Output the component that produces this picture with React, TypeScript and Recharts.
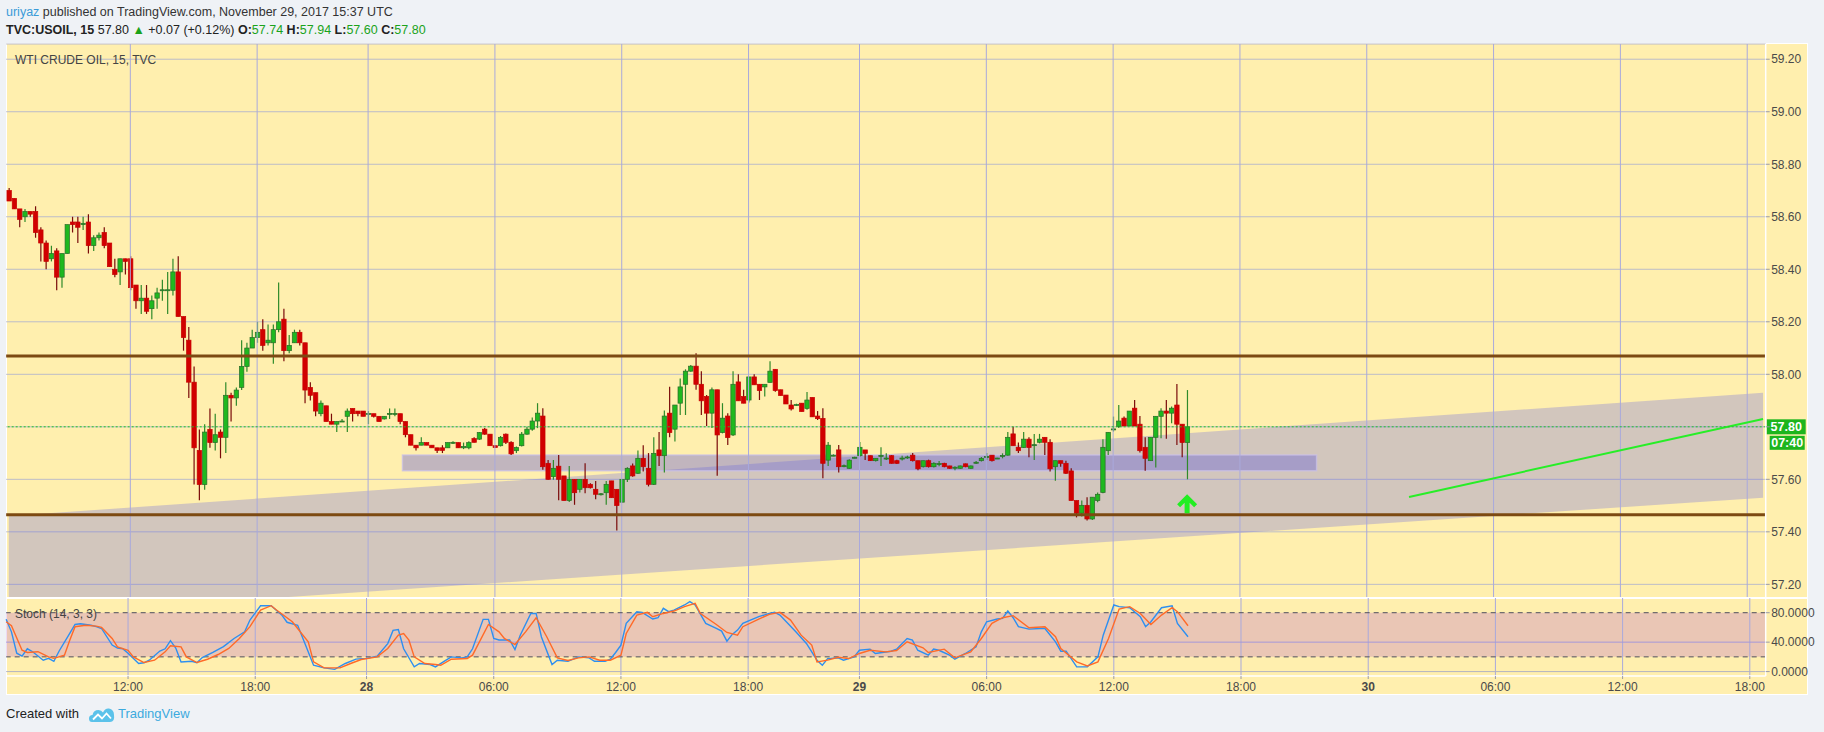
import type { JSX } from 'react';
import {
  Area,
  Bar,
  CartesianGrid,
  ComposedChart,
  Line,
  ReferenceArea,
  ReferenceDot,
  ReferenceLine,
  XAxis,
  YAxis,
} from 'recharts';

// 15-minute candles [open, high, low, close], one list per day
const nov27 = [
  [58.7, 58.71, 58.66, 58.66], [58.67, 58.67, 58.63, 58.63], [58.63, 58.63, 58.56, 58.59], [58.6, 58.63, 58.58, 58.62],
  [58.62, 58.62, 58.6, 58.61], [58.62, 58.64, 58.52, 58.54], [58.55, 58.56, 58.43, 58.5], [58.5, 58.51, 58.4, 58.43],
  [58.44, 58.49, 58.43, 58.46], [58.47, 58.48, 58.32, 58.37], [58.37, 58.46, 58.33, 58.46], [58.46, 58.57, 58.46, 58.57],
  [58.58, 58.6, 58.54, 58.57], [58.58, 58.6, 58.5, 58.56], [58.57, 58.6, 58.55, 58.575], [58.58, 58.61, 58.46, 58.49],
  [58.49, 58.53, 58.47, 58.52], [58.52, 58.54, 58.51, 58.53], [58.54, 58.56, 58.48, 58.49], [58.5, 58.5, 58.41, 58.41],
  [58.4, 58.44, 58.37, 58.38], [58.39, 58.44, 58.34, 58.44], [58.44, 58.44, 58.38, 58.43], [58.44, 58.45, 58.32, 58.33],
  [58.34, 58.34, 58.25, 58.28], [58.28, 58.34, 58.23, 58.29], [58.29, 58.34, 58.23, 58.24], [58.25, 58.3, 58.21, 58.28],
  [58.29, 58.33, 58.25, 58.31], [58.32, 58.36, 58.28, 58.322], [58.32, 58.39, 58.23, 58.322], [58.32, 58.44, 58.3, 58.39],
  [58.39, 58.45, 58.22, 58.22], [58.22, 58.22, 58.09, 58.14], [58.13, 58.18, 57.91, 57.97], [57.97, 58.03, 57.58, 57.72],
  [57.71, 57.79, 57.52, 57.58], [57.58, 57.81, 57.56, 57.78], [57.79, 57.87, 57.72, 57.74], [57.74, 57.85, 57.71, 57.77],
  [57.78, 57.79, 57.68, 57.76], [57.76, 57.97, 57.7, 57.92], [57.92, 57.93, 57.82, 57.91], [57.91, 57.95, 57.88, 57.94],
  [57.95, 58.13, 57.94, 58.03], [58.03, 58.12, 58.01, 58.1], [58.1, 58.17, 58.1, 58.14], [58.14, 58.2, 58.12, 58.16],
  [58.17, 58.21, 58.09, 58.11], [58.12, 58.19, 58.11, 58.13], [58.12, 58.19, 58.04, 58.17], [58.17, 58.35, 58.16, 58.2],
  [58.21, 58.25, 58.05, 58.09], [58.09, 58.15, 58.08, 58.11], [58.12, 58.17, 58.12, 58.16], [58.16, 58.17, 58.11, 58.12],
  [58.12, 58.12, 57.89, 57.94], [57.95, 57.97, 57.9, 57.92], [57.93, 57.93, 57.84, 57.86], [57.85, 57.9, 57.84, 57.89],
  [57.88, 57.88, 57.82, 57.82], [57.82, 57.85, 57.81, 57.81], [57.81, 57.82, 57.78, 57.82], [57.82, 57.83, 57.82, 57.822],
  [57.84, 57.87, 57.78, 57.86], [57.87, 57.87, 57.82, 57.85], [57.86, 57.86, 57.84, 57.85], [57.86, 57.86, 57.84, 57.84],
];

const nov28 = [
  [57.85, 57.86, 57.81, 57.851], [57.85, 57.85, 57.835, 57.84], [57.84, 57.84, 57.82, 57.82], [57.83, 57.84, 57.828, 57.84],
  [57.85, 57.87, 57.83, 57.851], [57.85, 57.87, 57.84, 57.851], [57.85, 57.85, 57.81, 57.82], [57.82, 57.82, 57.76, 57.77],
  [57.77, 57.77, 57.73, 57.73], [57.73, 57.73, 57.71, 57.72], [57.73, 57.76, 57.73, 57.74], [57.74, 57.74, 57.73, 57.73],
  [57.73, 57.73, 57.72, 57.72], [57.72, 57.72, 57.7, 57.71], [57.72, 57.73, 57.7, 57.71], [57.72, 57.74, 57.72, 57.74],
  [57.739, 57.745, 57.735, 57.741], [57.74, 57.74, 57.72, 57.72], [57.72, 57.74, 57.715, 57.725], [57.72, 57.745, 57.715, 57.74],
  [57.755, 57.76, 57.74, 57.741], [57.753, 57.78, 57.75, 57.778], [57.791, 57.795, 57.77, 57.772], [57.772, 57.772, 57.728, 57.728],
  [57.728, 57.73, 57.72, 57.721], [57.728, 57.765, 57.725, 57.76], [57.772, 57.775, 57.735, 57.741], [57.741, 57.745, 57.693, 57.697],
  [57.709, 57.725, 57.7, 57.721], [57.728, 57.78, 57.725, 57.772], [57.772, 57.8, 57.77, 57.791], [57.791, 57.835, 57.785, 57.822],
  [57.822, 57.89, 57.795, 57.852], [57.841, 57.871, 57.636, 57.648], [57.661, 57.674, 57.598, 57.6], [57.61, 57.674, 57.598, 57.642],
  [57.65, 57.693, 57.52, 57.6], [57.613, 57.613, 57.519, 57.519], [57.519, 57.651, 57.514, 57.6], [57.6, 57.6, 57.503, 57.549],
  [57.562, 57.6, 57.55, 57.6], [57.6, 57.661, 57.547, 57.568], [57.581, 57.585, 57.565, 57.568], [57.562, 57.594, 57.524, 57.543],
  [57.543, 57.548, 57.538, 57.545], [57.549, 57.594, 57.503, 57.581], [57.594, 57.594, 57.53, 57.53], [57.562, 57.562, 57.405, 57.5],
  [57.513, 57.6, 57.513, 57.6], [57.6, 57.646, 57.59, 57.642], [57.651, 57.66, 57.61, 57.613], [57.623, 57.71, 57.62, 57.68],
  [57.68, 57.73, 57.63, 57.648], [57.642, 57.7, 57.573, 57.581], [57.581, 57.76, 57.578, 57.699], [57.712, 57.78, 57.651, 57.69],
  [57.69, 57.862, 57.626, 57.841], [57.852, 57.953, 57.76, 57.778], [57.791, 57.883, 57.744, 57.883], [57.89, 57.984, 57.845, 57.952],
  [57.962, 58.019, 57.845, 58.012], [58.012, 58.035, 58.01, 58.031], [58.031, 58.08, 57.941, 57.962], [57.962, 58.012, 57.845, 57.899],
  [57.915, 57.921, 57.803, 57.852], [57.852, 57.95, 57.795, 57.941], [57.941, 57.941, 57.614, 57.769], [57.778, 57.89, 57.775, 57.833],
  [57.841, 57.852, 57.731, 57.759], [57.769, 58.012, 57.765, 57.962], [57.971, 58.0, 57.899, 57.899], [57.915, 57.941, 57.89, 57.89],
  [57.902, 57.99, 57.893, 57.99], [57.99, 58.0, 57.96, 57.96], [57.962, 57.962, 57.902, 57.938], [57.952, 57.962, 57.915, 57.962],
  [57.969, 58.05, 57.969, 58.012], [58.019, 58.019, 57.934, 57.938], [57.941, 57.941, 57.919, 57.919], [57.921, 57.921, 57.887, 57.887],
  [57.883, 57.902, 57.862, 57.868], [57.883, 57.888, 57.88, 57.885], [57.89, 57.89, 57.858, 57.858], [57.87, 57.933, 57.865, 57.902],
  [57.912, 57.912, 57.838, 57.838], [57.841, 57.86, 57.826, 57.831], [57.832, 57.871, 57.604, 57.661], [57.673, 57.742, 57.651, 57.73],
  [57.69, 57.695, 57.688, 57.692], [57.712, 57.731, 57.626, 57.648], [57.651, 57.656, 57.646, 57.652], [57.642, 57.676, 57.64, 57.673],
  [57.683, 57.686, 57.68, 57.684],
];

const nov29 = [
  [57.69, 57.742, 57.686, 57.722], [57.712, 57.712, 57.674, 57.699], [57.69, 57.69, 57.67, 57.671], [57.671, 57.68, 57.668, 57.68],
  [57.69, 57.722, 57.651, 57.691], [57.68, 57.699, 57.674, 57.681], [57.69, 57.692, 57.66, 57.661], [57.671, 57.675, 57.658, 57.661],
  [57.679, 57.69, 57.672, 57.681], [57.684, 57.69, 57.678, 57.685], [57.692, 57.7, 57.668, 57.671], [57.671, 57.671, 57.635, 57.64],
  [57.648, 57.671, 57.645, 57.671], [57.671, 57.675, 57.645, 57.648], [57.648, 57.665, 57.645, 57.661], [57.659, 57.67, 57.65, 57.66],
  [57.661, 57.663, 57.646, 57.648], [57.651, 57.652, 57.64, 57.642], [57.645, 57.65, 57.635, 57.646], [57.642, 57.653, 57.64, 57.651],
  [57.659, 57.66, 57.646, 57.648], [57.642, 57.653, 57.64, 57.651], [57.664, 57.67, 57.658, 57.665], [57.671, 57.685, 57.668, 57.68],
  [57.686, 57.7, 57.674, 57.687], [57.692, 57.692, 57.668, 57.671], [57.68, 57.682, 57.678, 57.681], [57.69, 57.699, 57.68, 57.691],
  [57.692, 57.78, 57.69, 57.76], [57.773, 57.8, 57.728, 57.728], [57.722, 57.74, 57.7, 57.709], [57.721, 57.78, 57.72, 57.753],
  [57.753, 57.76, 57.684, 57.721], [57.731, 57.773, 57.674, 57.732], [57.741, 57.773, 57.737, 57.753], [57.76, 57.76, 57.693, 57.741],
  [57.741, 57.753, 57.63, 57.64], [57.648, 57.671, 57.595, 57.671], [57.671, 57.671, 57.648, 57.661], [57.661, 57.671, 57.62, 57.623],
  [57.632, 57.642, 57.519, 57.519], [57.519, 57.519, 57.455, 57.471], [57.471, 57.519, 57.458, 57.501], [57.501, 57.532, 57.443, 57.449],
  [57.449, 57.532, 57.445, 57.532], [57.519, 57.55, 57.513, 57.543], [57.55, 57.753, 57.547, 57.722], [57.709, 57.779, 57.693, 57.779],
  [57.791, 57.839, 57.782, 57.792], [57.801, 57.883, 57.795, 57.822], [57.833, 57.839, 57.803, 57.803], [57.803, 57.86, 57.803, 57.86],
  [57.871, 57.902, 57.803, 57.803], [57.81, 57.841, 57.702, 57.709], [57.722, 57.76, 57.633, 57.68], [57.671, 57.76, 57.671, 57.76],
  [57.76, 57.84, 57.645, 57.84], [57.84, 57.871, 57.756, 57.86], [57.86, 57.902, 57.755, 57.852], [57.852, 57.877, 57.814, 57.871],
  [57.883, 57.963, 57.731, 57.81], [57.81, 57.81, 57.684, 57.74], [57.74, 57.94, 57.6, 57.8],
];

// Stoch %K / %D read at [bar, value]
const stochK = [
  [0, 71], [1, 54], [2, 25], [3, 21], [4, 31], [5, 27], [7, 15.5], [8, 18], [9, 14], [10, 28], [12, 52], [13, 64], [14, 65],
  [16, 63], [17, 61], [18, 58.6], [20, 36], [21, 32], [22, 31], [23, 25], [25, 11], [26, 12], [27, 15.5], [29, 28], [30, 31],
  [31, 42], [32, 32], [33, 13], [35, 14], [36, 12], [37, 19], [39, 26], [41, 34], [43, 45], [45, 54], [46, 70], [48, 89.5],
  [50, 89.5], [52, 77], [53, 67], [55, 63], [56, 45], [58, 8.6], [60, 5], [62, 3], [64, 11], [66, 17], [68, 18], [70, 21],
  [72, 38], [73, 56], [74, 57], [75, 31], [77, 6.4], [78, 11], [80, 9.6], [81, 6.4], [83, 15.5], [84, 20], [86, 18.7], [87, 20],
  [88, 31], [90, 71], [91, 71], [92, 45], [93, 43], [95, 43], [96, 30], [97, 49.5], [99, 79], [100, 79], [101, 47], [103, 9.6],
  [104, 15.5], [106, 14], [108, 20], [110, 18.7], [111, 14], [113, 14], [114, 17], [115, 26], [116, 36], [117, 65.5],
  [119, 81.4], [120, 80.5], [122, 71.4], [123, 73.2], [124, 86], [125, 81.4], [126, 83.6], [128, 90.5], [129, 95], [130, 90.5],
  [132, 65.5], [134, 58.6], [135, 55], [136, 41.4], [137, 50.5], [138, 56.4], [139, 65.5], [142, 74.6], [144, 79], [145, 80.5],
  [146, 76.8], [149, 54], [151, 38.2], [153, 15.5], [154, 8.6], [155, 17.7], [157, 18.7], [158, 15.5], [160, 20], [161, 29],
  [163, 30.5], [164, 24.6], [167, 27.7], [168, 30.5], [170, 45], [171, 42.7], [172, 29], [174, 22.3], [175, 30.5], [176, 29],
  [178, 22.3], [179, 16.8], [181, 24.6], [183, 33.6], [184, 54], [185, 67.7], [187, 71.4], [188, 72.3], [189, 82.3], [190, 73.2],
  [191, 61], [193, 57.7], [195, 58.6], [196, 58.6], [198, 40.5], [199, 27.7], [200, 27.7], [202, 6.4], [204, 6.4], [206, 20],
  [207, 49.5], [209, 90.5], [210, 88.2], [212, 86.8], [214, 74.6], [215, 61], [216, 67.7], [218, 86.8], [220, 89.5], [221, 65.5],
  [223, 47.3],
];

const stochD = [
  [0, 67.7], [1, 62.3], [3, 29], [4, 26], [6, 27], [8, 20], [9, 18], [11, 22.3], [12, 42.7], [13, 61], [15, 63], [17, 61.8],
  [18, 60], [20, 45], [21, 33.6], [23, 29], [24, 20], [26, 12.3], [28, 15.5], [30, 26.8], [31, 35], [33, 33.6], [34, 20],
  [36, 12.3], [38, 16.8], [40, 23.2], [42, 31.4], [44, 45], [46, 61], [48, 83.6], [50, 89.5], [51, 83.6], [54, 67.7], [55, 58.6],
  [57, 40.5], [58, 13.2], [60, 5], [63, 5], [65, 11], [67, 16.4], [70, 20], [72, 31.4], [74, 49.5], [75, 51.8], [76, 42.7],
  [77, 20], [79, 11], [81, 9.6], [82, 8.6], [84, 16.8], [87, 17.7], [88, 22.3], [91, 64], [93, 54], [94, 45], [96, 36.8],
  [98, 54], [100, 73.2], [102, 47.3], [104, 18.7], [106, 15], [108, 18.7], [110, 20], [112, 15.5], [114, 15.5], [116, 22.3],
  [117, 51.8], [119, 76.8], [121, 80.5], [122, 74.6], [124, 79], [126, 82.3], [128, 88.2], [130, 92.7], [131, 79], [134, 64],
  [136, 53.2], [138, 49.5], [139, 61], [142, 71.4], [144, 77.7], [146, 80.5], [148, 70], [150, 49.5], [152, 36], [153, 13.2],
  [155, 15.5], [157, 19.5], [159, 17.7], [161, 24.6], [163, 29], [166, 26.8], [168, 28.6], [170, 40.5], [173, 32.3], [174, 26],
  [177, 30.5], [179, 18.7], [182, 26.8], [184, 45], [186, 65.5], [188, 73.2], [190, 76], [193, 59.5], [196, 61], [198, 47.3],
  [199, 31.4], [202, 13.2], [204, 7.7], [206, 13.2], [208, 45], [210, 85], [212, 88.2], [214, 79], [216, 64], [218, 76.8],
  [220, 86.8], [221, 81.4], [223, 62.3],
];

const timeTicks = [
  { i: 23, label: '12:00' }, { i: 47, label: '18:00' }, { i: 68, label: '28' }, { i: 92, label: '06:00' },
  { i: 116, label: '12:00' }, { i: 140, label: '18:00' }, { i: 161, label: '29' }, { i: 185, label: '06:00' },
  { i: 209, label: '12:00' }, { i: 233, label: '18:00' }, { i: 257, label: '30' }, { i: 281, label: '06:00' },
  { i: 305, label: '12:00' }, { i: 329, label: '18:00' },
];

const priceTicks = [57.2, 57.4, 57.6, 57.8, 58.0, 58.2, 58.4, 58.6, 58.8, 59.0, 59.2];
const stochTicks = [0, 40, 80];

// drawings
const levels = [58.07, 57.465];
const channelLow = [[0, 57.08], [332, 57.53]];
const channelHigh = [[0, 57.46], [332, 57.93]];
const trendLine = [[265, 57.533], [332, 57.83]];
const zone = { from: 75, to: 247, low: 57.633, high: 57.693 };
const arrowAt = { i: 223, price: 57.505 };
const lastPrice = 57.8;
const countdown = '07:40';

const SLOTS = 333;
const candles = [...nov27, ...nov28, ...nov29];

type Row = {
  i: number;
  o?: number; h?: number; l?: number; c?: number;
  range?: [number, number];
  k?: number; d?: number;
  chan?: [number, number];
  trend?: number;
};

const rows: Row[] = Array.from({ length: SLOTS }, (_, i) => {
  const row: Row = { i };
  const cd = candles[i];
  if (cd) {
    const [o, h, l, c] = cd;
    const hi = Math.max(h, o, c);
    const lo = Math.min(l, o, c);
    row.o = o; row.h = hi; row.l = lo; row.c = c;
    row.range = [lo, hi];
  }
  return row;
});
stochK.forEach(([i, v]) => { rows[i].k = v; });
stochD.forEach(([i, v]) => { rows[i].d = v; });
channelLow.forEach(([i, v], n) => { rows[i].chan = [v, channelHigh[n][1]]; });
trendLine.forEach(([i, v]) => { rows[i].trend = v; });

const FONT = '"Liberation Sans", Arial, sans-serif';
const YELLOW = '#ffefae';
const VGRID = '#a9a9dc';
const MARGIN = { top: 0, right: 8.3, bottom: 0, left: 6.15 };

function Candle(props: any): JSX.Element | null {
  const { x, y, width, height, payload } = props;
  if (!payload || payload.o == null) return null;
  const { o, h, l, c } = payload;
  const up = c >= o;
  const k = h > l ? height / (h - l) : 0;
  const cx = x + width / 2;
  const top = y + (h - Math.max(o, c)) * k;
  const bh = Math.max(1, Math.abs(o - c) * k);
  return (
    <g>
      <line x1={cx} x2={cx} y1={y} y2={y + Math.max(height, 1)} stroke={up ? '#2f8a2a' : '#7a0a0a'} strokeWidth={1.2} />
      <rect
        x={x - 0.2}
        y={top}
        width={width + 0.4}
        height={bh}
        fill={up ? '#1fb81f' : '#d10000'}
        stroke={up ? '#2a6b2a' : '#c80000'}
        strokeWidth={0.7}
      />
    </g>
  );
}

function PriceTag(props: any): JSX.Element | null {
  const vb = props.viewBox;
  if (!vb) return null;
  const x = vb.x + vb.width;
  const y = vb.y;
  return (
    <g>
      <rect x={x + 1} y={y - 7.5} width={39} height={15} fill="#1db51d" />
      <text x={x + 20.5} y={y + 4.5} textAnchor="middle" fill="#fff" fontSize={12.5} fontWeight="bold">
        {lastPrice.toFixed(2)}
      </text>
      <rect x={x + 4} y={y + 9} width={35} height={14} fill="#1db51d" />
      <text x={x + 21.5} y={y + 20.5} textAnchor="middle" fill="#fff" fontSize={12.5} fontWeight="bold">
        {countdown}
      </text>
    </g>
  );
}

// price-axis label, skipped where the last-price tag sits
function PriceTick(props: any): JSX.Element {
  const { x, y, payload } = props;
  if (Math.abs(payload.value - lastPrice) < 1e-6) return <g />;
  return (
    <text x={x} y={y} dy="0.355em" textAnchor="start" fill="#4a4a4a" fontSize={12}>
      {payload.value.toFixed(2)}
    </text>
  );
}

function UpArrow(props: any): JSX.Element {
  const { cx, cy } = props;
  const d = `M${cx} ${cy - 10} L${cx + 10} ${cy} L${cx + 7} ${cy + 3} L${cx + 2.5} ${cy - 1.5} L${cx + 2.5} ${cy + 9}
    L${cx - 2.5} ${cy + 9} L${cx - 2.5} ${cy - 1.5} L${cx - 7} ${cy + 3} L${cx - 10} ${cy} Z`;
  return <path d={d} fill="#22ee22" />;
}

function TimeTick(props: any): JSX.Element | null {
  const { x, y, payload } = props;
  const t = timeTicks.find((d) => d.i === payload.value);
  if (!t) return null;
  const isDay = !t.label.includes(':');
  return (
    <text x={x} y={y} dy="0.71em" textAnchor="middle" fontSize={12} fill="#4a4a4a" fontWeight={isDay ? 'bold' : 'normal'}>
      {t.label}
    </text>
  );
}

function Logo(): JSX.Element {
  return (
    <svg width={26} height={16} viewBox="0 0 26 16" style={{ verticalAlign: 'middle' }}>
      <path d="M3 15 Q0 15 0 11.5 Q0 8 3.5 8 Q4.5 3 9.5 3 Q12.5 3 14 5.5 Q16 1 20 1.5 Q25 2.5 25 8 Q26 15 21 15 Z" fill="#5bc2ea" />
      <path d="M4 12.5 L9 7.5 L13 11.5 L17.5 6.5 L22 11.5" fill="none" stroke="#fff" strokeWidth={1.8} />
    </svg>
  );
}

export default function App(): JSX.Element {
  return (
    <div style={{ position: 'absolute', left: 0, top: 0, width: 1824, height: 732, background: '#eff2f6', fontFamily: FONT, overflow: 'hidden' }}>
      <div style={{ position: 'absolute', left: 6, top: 4, fontSize: 12.5, lineHeight: '16px', color: '#333', whiteSpace: 'nowrap' }}>
        <span style={{ color: '#3a9bd8' }}>uriyaz</span> published on TradingView.com, November 29, 2017 15:37 UTC
      </div>
      <div style={{ position: 'absolute', left: 6, top: 22, fontSize: 12.5, lineHeight: '16px', color: '#222', whiteSpace: 'nowrap' }}>
        <b>TVC:USOIL, 15</b> 57.80 <span style={{ color: '#1aa31a' }}>▲</span> +0.07 (+0.12%) <b>O:</b>
        <span style={{ color: '#1aa31a' }}>57.74</span> <b>H:</b><span style={{ color: '#1aa31a' }}>57.94</span>{' '}
        <b>L:</b><span style={{ color: '#1aa31a' }}>57.60</span> <b>C:</b><span style={{ color: '#1aa31a' }}>57.80</span>
      </div>

      <div style={{ position: 'absolute', left: 6, top: 43, width: 1800, height: 650, background: YELLOW, border: '1px solid #fff' }} />

      <div style={{ position: 'absolute', left: 0, top: 0 }}>
        <ComposedChart width={1824} height={598} data={rows} margin={{ ...MARGIN, top: 44 }}>
          <CartesianGrid vertical={false} stroke="#bcbcc8" />
          <XAxis dataKey="i" type="category" hide height={0} />
          <YAxis
            orientation="right"
            width={50}
            type="number"
            domain={[57.148, 59.258]}
            allowDataOverflow
            ticks={priceTicks}
            interval={0}
            tickSize={4}
            tickMargin={1.5}
            tickLine={{ stroke: '#9a9aa8' }}
            axisLine={{ stroke: '#ffffff', strokeWidth: 1.5 }}
            tick={(p: any) => <PriceTick {...p} />}
          />
          {timeTicks.map((t) => (
            <ReferenceLine key={`v${t.i}`} x={t.i} stroke={VGRID} strokeWidth={1} />
          ))}
          <Bar dataKey="range" barSize={4} isAnimationActive={false} shape={(p: any) => <Candle {...p} />} />
          <Area
            dataKey="chan"
            type="linear"
            connectNulls
            stroke="none"
            fill="#6a66e0"
            fillOpacity={0.3}
            dot={false}
            activeDot={false}
            isAnimationActive={false}
          />
          <ReferenceArea
            x1={zone.from}
            x2={zone.to}
            y1={zone.low}
            y2={zone.high}
            fill="#6560d8"
            fillOpacity={0.4}
            stroke="#c9c1ea"
            strokeOpacity={0.7}
            strokeWidth={1.5}
          />
          {levels.map((p) => (
            <ReferenceLine key={`l${p}`} y={p} stroke="#7d4a12" strokeWidth={3} />
          ))}
          <Line
            dataKey="trend"
            type="linear"
            connectNulls
            stroke="#27ee27"
            strokeWidth={2}
            dot={false}
            activeDot={false}
            isAnimationActive={false}
          />
          <ReferenceDot x={arrowAt.i} y={arrowAt.price} r={0} shape={(p: any) => <UpArrow {...p} />} />
          <ReferenceLine y={lastPrice} stroke="#22c322" strokeDasharray="2 2" label={<PriceTag />} />
        </ComposedChart>
      </div>

      <div style={{ position: 'absolute', left: 6, top: 597, width: 1802, height: 1.5, background: '#fff' }} />

      <div style={{ position: 'absolute', left: 0, top: 598 }}>
        <ComposedChart width={1824} height={96} data={rows} margin={MARGIN}>
          <XAxis
            dataKey="i"
            type="category"
            height={18}
            ticks={timeTicks.map((t) => t.i)}
            interval={0}
            tickSize={3}
            tickMargin={3}
            tickLine={{ stroke: '#9a9aa8' }}
            axisLine={{ stroke: '#ffffff', strokeWidth: 1.5 }}
            tick={(p: any) => <TimeTick {...p} />}
          />
          <YAxis
            orientation="right"
            width={50}
            type="number"
            domain={[-6, 100]}
            allowDataOverflow
            ticks={stochTicks}
            interval={0}
            tickFormatter={(v: number) => v.toFixed(4)}
            tickSize={4}
            tickMargin={1.5}
            tickLine={{ stroke: '#9a9aa8' }}
            axisLine={{ stroke: '#ffffff', strokeWidth: 1.5 }}
            tick={{ fill: '#4a4a4a', fontSize: 12 }}
          />
          <ReferenceArea y1={20} y2={80} fill="#b45fc8" fillOpacity={0.28} stroke="none" />
          {timeTicks.map((t) => (
            <ReferenceLine key={`sv${t.i}`} x={t.i} stroke={VGRID} strokeWidth={1} />
          ))}
          <ReferenceLine y={0} stroke="#b4b4c0" />
          <ReferenceLine y={40} stroke="#a597d8" />
          <ReferenceLine y={80} stroke="#4f4f5c" strokeDasharray="5 4" />
          <ReferenceLine y={20} stroke="#4f4f5c" strokeDasharray="5 4" />
          <Line
            dataKey="k"
            type="linear"
            connectNulls
            stroke="#2d8ff0"
            strokeWidth={1.4}
            dot={false}
            activeDot={false}
            isAnimationActive={false}
          />
          <Line
            dataKey="d"
            type="linear"
            connectNulls
            stroke="#ff6a28"
            strokeWidth={1.4}
            dot={false}
            activeDot={false}
            isAnimationActive={false}
          />
        </ComposedChart>
      </div>

      <div style={{ position: 'absolute', left: 15, top: 53, fontSize: 12, color: '#444', whiteSpace: 'nowrap' }}>
        WTI CRUDE OIL, 15, TVC
      </div>
      <div style={{ position: 'absolute', left: 15, top: 607, fontSize: 12, color: '#444', whiteSpace: 'nowrap' }}>
        Stoch (14, 3, 3)
      </div>

      <div style={{ position: 'absolute', left: 6, top: 705, fontSize: 13, lineHeight: '18px', color: '#222', whiteSpace: 'nowrap' }}>
        Created with <span style={{ marginLeft: 6 }}><Logo /></span>{' '}
        <span style={{ color: '#3caade' }}>TradingView</span>
      </div>
    </div>
  );
}
